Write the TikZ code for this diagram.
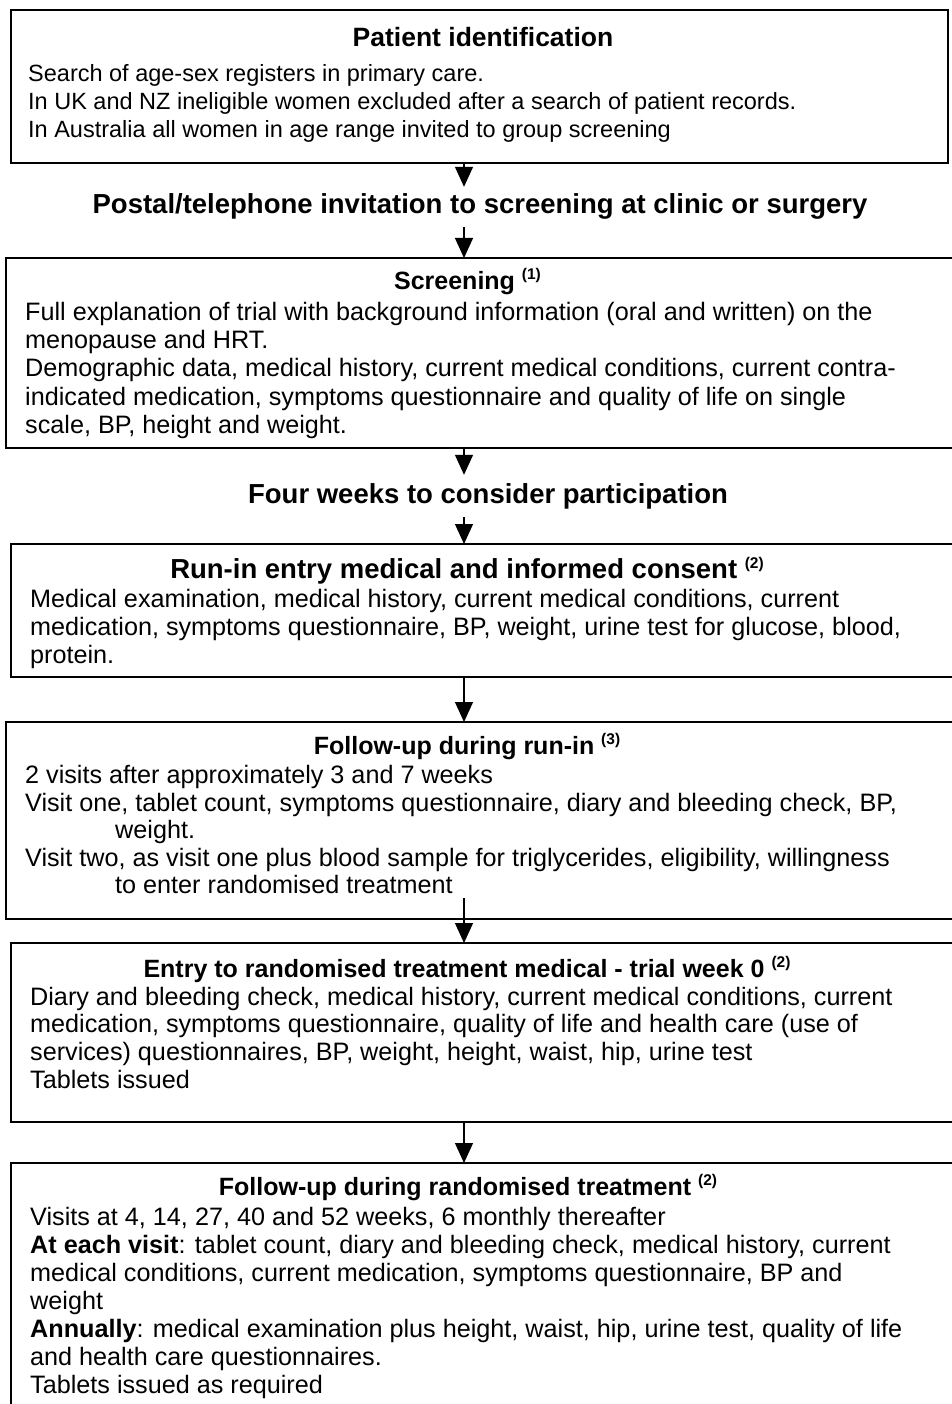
\documentclass[tikz,border=0pt]{standalone}
\usepackage{fontspec}
\setmainfont{Liberation Sans}
\usetikzlibrary{arrows.meta}
\newcommand\fbody{\fontsize{23.5}{28.2}\selectfont}
\newcommand\fbodyb{\fontsize{25.2}{28.2}\selectfont}
\newcommand\ftbig{\fontsize{27.5}{30}\selectfont\bfseries}
\newcommand\ftpat{\fontsize{26.5}{30}\selectfont\bfseries}
\newcommand\ftsm{\fontsize{25}{28}\selectfont\bfseries}
\newcommand\supnum[1]{\raisebox{10pt}{\fontsize{15.5}{16}\selectfont\bfseries(#1)}}
\begin{document}
\begin{tikzpicture}[x=1pt,y=-1pt,
  boxst/.style={draw, line width=1.8pt, anchor=north west, inner sep=0pt, outer sep=0pt},
  body/.style={anchor=base west, inner sep=0pt, font=\fbodyb},
  bodys/.style={anchor=base west, inner sep=0pt, font=\fbody},
  ttlbig/.style={anchor=base, inner sep=0pt, font=\ftbig},
  ttlsm/.style={anchor=base, inner sep=0pt, font=\ftsm},
  arr/.style={line width=1.3pt, -{Triangle[length=20pt,width=18pt]}}]
\useasboundingbox (0,0) rectangle (952,1404);
\coordinate (ax) at (464,0);
% boxes
\node[boxst, minimum width=937pt, minimum height=153pt] (box1) at (11,10) {};
\node[boxst, minimum width=954pt, minimum height=190pt] (box2) at (6,258) {};
\node[boxst, minimum width=949pt, minimum height=133pt] (box3) at (11,544) {};
\node[boxst, minimum width=954pt, minimum height=197pt] (box4) at (6,722) {};
\node[boxst, minimum width=949pt, minimum height=179pt] (box5) at (11,943) {};
\node[boxst, minimum width=949pt, minimum height=257pt] (box6) at (11,1163) {};
% box 1
\node[anchor=base, inner sep=0pt, font=\ftpat] (t1) at (483,47) {Patient identification};
\node[bodys] (b1a) at (28,82) {Search of age-sex registers in primary care.};
\node[bodys] (b1b) at (28,110) {In UK and NZ ineligible women excluded after a search of patient records.};
\node[bodys] (b1c) at (28,138) {In Australia all women in age range invited to group screening};
% postal
\node[ttlbig, text height=20pt, text depth=6pt, inner ysep=7pt] (postal) at (480,214) {Postal/telephone invitation to screening at clinic or surgery};
% box 2
\node[ttlsm] (t2) at (467.5,290) {Screening \supnum{1}};
\node[body] (b2a) at (25,320) {Full explanation of trial with background information (oral and written) on the};
\node[body] (b2b) at (25,348) {menopause and HRT.};
\node[body] (b2c) at (25,376) {Demographic data, medical history, current medical conditions, current contra-};
\node[body] (b2d) at (25,405) {indicated medication, symptoms questionnaire and quality of life on single};
\node[body] (b2e) at (25,433) {scale, BP, height and weight.};
% four weeks
\node[ttlbig, text height=20pt, text depth=6pt, inner ysep=8pt] (four) at (488,503) {Four weeks to consider participation};
% box 3
\node[ttlbig] (t3) at (467,578) {Run-in entry medical and informed consent \supnum{2}};
\node[body] (b3a) at (30,607) {Medical examination, medical history, current medical conditions, current};
\node[body] (b3b) at (30,635) {medication, symptoms questionnaire, BP, weight, urine test for glucose, blood,};
\node[body] (b3c) at (30,663) {protein.};
% box 4
\node[ttlsm] (t4) at (467,754) {Follow-up during run-in \supnum{3}};
\node[body] (b4a) at (25,783) {2 visits after approximately 3 and 7 weeks};
\node[body] (b4b) at (25,811) {Visit one, tablet count, symptoms questionnaire, diary and bleeding check, BP,};
\node[body] (b4c) at (115,838) {weight.};
\node[body] (b4d) at (25,866) {Visit two, as visit one plus blood sample for triglycerides, eligibility, willingness};
\node[body] (b4e) at (115,893) {to enter randomised treatment};
% box 5
\node[ttlsm] (t5) at (467,977) {Entry to randomised treatment medical - trial week 0 \supnum{2}};
\node[body] (b5a) at (30,1005) {Diary and bleeding check, medical history, current medical conditions, current};
\node[body] (b5b) at (30,1032) {medication, symptoms questionnaire, quality of life and health care (use of};
\node[body] (b5c) at (30,1060) {services) questionnaires, BP, weight, height, waist, hip, urine test};
\node[body] (b5d) at (30,1088) {Tablets issued};
% box 6
\node[ttlsm] (t6) at (468,1195) {Follow-up during randomised treatment \supnum{2}};
\node[body] (b6a) at (30,1225) {Visits at 4, 14, 27, 40 and 52 weeks, 6 monthly thereafter};
\node[body] (b6b) at (30,1253) {\textbf{At each visit}: tablet count, diary and bleeding check, medical history, current};
\node[body] (b6c) at (30,1281) {medical conditions, current medication, symptoms questionnaire, BP and};
\node[body] (b6d) at (30,1309) {weight};
\node[body] (b6e) at (30,1337) {\textbf{Annually}: medical examination plus height, waist, hip, urine test, quality of life};
\node[body] (b6f) at (30,1365) {and health care questionnaires.};
\node[body] (b6g) at (30,1393) {Tablets issued as required};
% arrows
\draw[arr] (box1.south -| ax) -- (postal.north -| ax);
\draw[arr] (postal.south -| ax) -- (box2.north -| ax);
\draw[arr] (box2.south -| ax) -- (four.north -| ax);
\draw[arr] (four.south -| ax) -- (box3.north -| ax);
\draw[arr] (box3.south -| ax) -- (box4.north -| ax);
\coordinate (s5) at (464,898);
\draw[arr] (s5) -- (box5.north -| ax);
\draw[arr] (box5.south -| ax) -- (box6.north -| ax);
\end{tikzpicture}
\end{document}
